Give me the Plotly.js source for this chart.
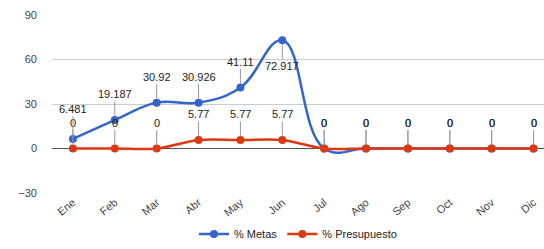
<!DOCTYPE html>
<html><head><meta charset="utf-8">
<script src="https://cdn.plot.ly/plotly-3.0.1.min.js"></script>
<style>html,body{margin:0;padding:0;background:#fff;}#chart{width:544px;height:249px;}</style>
</head><body><div id="chart"></div>
<script>
var months = ["Ene","Feb","Mar","Abr","May","Jun","Jul","Ago","Sep","Oct","Nov","Dic"];
var metas = [6.481, 19.187, 30.92, 30.926, 41.11, 72.917, 0, 0, 0, 0, 0, 0];
var presupuesto = [0, 0, 0, 5.77, 5.77, 5.77, 0, 0, 0, 0, 0, 0];
var metasLabels = ["6.481","19.187","30.92","30.926","41.11","72.917","0","0","0","0","0","0"];
var presLabels = ["0","0","0","5.77","5.77","5.77","0","0","0","0","0","0"];

var blue = "#3366cc", red = "#dc3912";
var traces = [
  {x: months, y: metas, name: "% Metas", type: "scatter", mode: "lines+markers",
   line: {color: blue, width: 2.5, shape: "spline", smoothing: 1.2}, marker: {color: blue, size: 8}},
  {x: months, y: presupuesto, name: "% Presupuesto", type: "scatter", mode: "lines+markers",
   line: {color: red, width: 2.5, shape: "spline", smoothing: 1}, marker: {color: red, size: 8}}
];

var ann = [];
function addLabels(vals, labels, other, isBlue) {
  for (var i = 0; i < vals.length; i++) {
    var ay = -26;
    if (vals[i] > 60) ay = 26;
    else if (isBlue && vals[i] !== other[i] && Math.abs(vals[i] - other[i]) < 10) ay = -30;
    ann.push({x: months[i], y: vals[i], text: labels[i], showarrow: true, arrowhead: 0,
      arrowwidth: 1, arrowcolor: "#999", ax: 0, ay: ay, standoff: 4,
      font: {family: "Liberation Sans, Arial", size: 11, color: "#222"}});
  }
}
addLabels(presupuesto, presLabels, metas, false);
addLabels(metas, metasLabels, presupuesto, true);

var layout = {
  width: 544, height: 249,
  margin: {l: 52, r: 0, t: 15, b: 54},
  paper_bgcolor: "#fff", plot_bgcolor: "#fff",
  font: {family: "Liberation Sans, Arial", size: 11, color: "#444"},
  showlegend: true,
  legend: {orientation: "h", x: 0.5, xanchor: "center", y: -0.23, yanchor: "middle",
    font: {size: 11, color: "#222"}},
  xaxis: {type: "category", range: [-0.5, 11.25], tickangle: -40, showgrid: false,
    zeroline: false, showline: false, ticks: "", tickfont: {size: 11, color: "#444"}, automargin: false},
  yaxis: {range: [-30, 90], tickvals: [-30, 0, 30, 60, 90], showgrid: true, gridcolor: "#cccccc",
    zeroline: true, zerolinecolor: "#555", zerolinewidth: 1, showline: false,
    ticklabelstandoff: 14, tickfont: {size: 11, color: "#444"}, automargin: false},
  annotations: ann
};
Plotly.newPlot("chart", traces, layout, {displayModeBar: false, staticPlot: true});
</script></body></html>
